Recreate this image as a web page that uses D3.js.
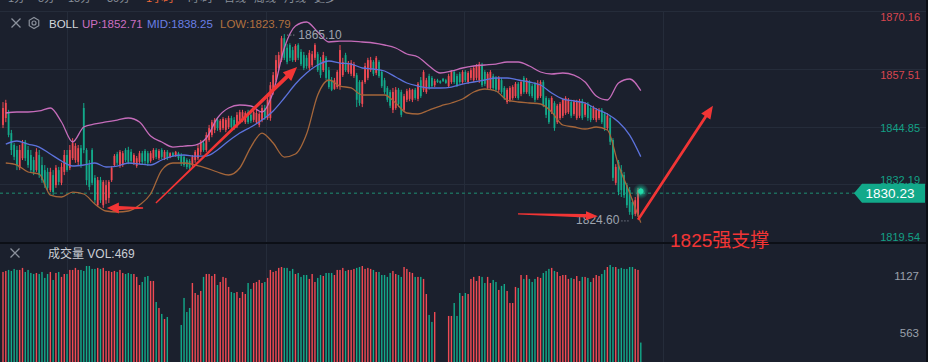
<!DOCTYPE html>
<html>
<head>
<meta charset="utf-8">
<script src="https://cdn.jsdelivr.net/npm/d3@7"></script>
<style>
html, body { margin: 0; padding: 0; background: #1b202d; }
svg { display: block; font-family: "Liberation Sans", Arial, "Noto Sans CJK SC", sans-serif; }
</style>
</head>
<body>
<svg id="chart"></svg>
<script>
const width = 928
const height = 362

// 5 min bars, one entry per bar
const opens = [
  1845.2,1846.7,1847.8,1843.4,1840.8,1839.7,1835.8,1837.9,1841.5,1839.7,
  1838.6,1837.5,1835.3,1838.6,1836.4,1835.3,1834.9,1830.9,1834.2,1832.0,
  1835.3,1832.5,1834.9,1838.6,1835.8,1837.9,1837.5,1837.1,1840.1,1848.9,
  1839.7,1836.4,1839.7,1833.6,1827.6,1833.1,1827.6,1828.7,1829.2,1833.1,
  1836.4,1838.8,1836.2,1836.4,1839.7,1839.7,1839.3,1836.9,1836.2,1837.1,
  1839.0,1839.5,1839.0,1837.3,1837.9,1839.7,1837.9,1839.7,1837.9,1839.3,
  1838.2,1839.0,1838.4,1839.0,1838.6,1838.2,1837.5,1837.3,1836.4,1837.5,
  1837.9,1839.3,1841.2,1839.7,1841.9,1843.0,1844.1,1846.3,1844.1,1844.5,
  1844.1,1844.7,1846.7,1846.3,1844.9,1845.8,1846.3,1845.8,1848.0,1847.4,
  1846.3,1845.8,1845.2,1846.3,1848.9,1846.7,1846.7,1852.4,1855.0,1857.7,
  1859.4,1864.2,1862.1,1862.7,1861.6,1859.4,1862.7,1861.2,1860.5,1859.9,
  1857.7,1858.3,1859.9,1860.7,1859.4,1857.2,1859.9,1857.2,1855.0,1853.1,
  1853.5,1853.9,1856.1,1860.5,1856.8,1856.4,1855.9,1856.1,1854.6,1849.8,
  1854.6,1855.5,1857.2,1859.0,1856.6,1859.0,1856.8,1855.0,1853.3,1852.4,
  1848.5,1848.9,1852.9,1852.4,1848.5,1850.7,1850.9,1850.7,1852.9,1850.9,
  1855.0,1852.9,1852.4,1855.9,1855.5,1853.9,1855.0,1854.8,1855.3,1855.0,
  1853.7,1854.6,1856.8,1855.9,1856.4,1854.6,1856.8,1854.6,1855.5,1855.0,
  1855.5,1855.0,1858.3,1856.8,1853.3,1853.3,1855.9,1855.5,1852.9,1855.0,
  1853.3,1850.2,1850.7,1851.1,1851.5,1854.2,1852.0,1855.5,1852.4,1854.6,
  1853.7,1854.2,1851.1,1851.5,1854.6,1851.1,1850.7,1848.0,1850.0,1845.8,
  1846.7,1847.2,1847.8,1848.0,1850.2,1847.6,1846.7,1847.2,1850.4,1847.4,
  1849.8,1848.9,1846.7,1846.3,1846.7,1848.5,1847.6,1844.5,1846.7,1841.9,
  1832.5,1837.1,1835.3,1834.2,1832.0,1830.9,1828.3,1825.7,1825.5,1830.9
]
const highs = [
  1850.2,1850.7,1848.5,1844.1,1841.2,1840.6,1840.8,1841.9,1841.9,1840.6,
  1839.7,1838.2,1840.1,1839.7,1838.2,1836.4,1835.8,1835.8,1835.3,1836.4,
  1836.0,1836.9,1839.7,1839.7,1840.8,1842.3,1841.2,1840.8,1840.8,1850.0,
  1840.1,1837.5,1840.1,1834.2,1833.8,1833.8,1833.1,1833.1,1833.1,1836.2,
  1838.8,1839.3,1839.7,1839.5,1840.1,1840.4,1839.9,1839.0,1838.4,1839.5,
  1839.5,1839.9,1839.5,1839.5,1840.1,1840.1,1839.9,1840.1,1839.7,1839.7,
  1839.2,1839.3,1839.5,1839.3,1839.0,1838.6,1837.9,1837.7,1838.6,1839.7,
  1840.8,1841.9,1841.9,1843.6,1845.2,1846.3,1846.7,1846.7,1846.5,1846.9,
  1846.7,1847.2,1847.2,1846.9,1848.0,1848.5,1848.5,1848.2,1848.5,1847.8,
  1848.7,1848.5,1848.0,1849.6,1849.6,1851.5,1854.6,1856.8,1860.5,1861.2,
  1864.7,1865.1,1862.9,1863.1,1862.3,1862.9,1863.1,1861.8,1861.2,1860.5,
  1861.6,1861.4,1863.1,1861.2,1860.1,1861.2,1860.3,1857.9,1855.7,1855.5,
  1857.2,1862.7,1859.9,1861.0,1859.2,1859.4,1859.0,1856.6,1855.0,1855.0,
  1858.8,1859.9,1860.1,1859.4,1860.3,1859.4,1857.2,1855.5,1853.7,1852.9,
  1853.3,1853.5,1853.3,1852.9,1852.0,1853.1,1853.3,1853.1,1853.3,1854.6,
  1855.7,1857.2,1855.5,1856.4,1855.9,1855.3,1855.3,1855.0,1855.5,1855.3,
  1856.4,1857.2,1857.2,1856.4,1856.8,1857.2,1857.2,1857.0,1857.7,1858.1,
  1858.5,1859.0,1858.8,1857.2,1856.8,1857.2,1856.4,1855.9,1855.9,1855.5,
  1853.7,1853.3,1853.7,1853.9,1854.6,1854.6,1855.0,1855.9,1855.5,1855.0,
  1854.2,1854.6,1855.0,1855.0,1855.0,1851.5,1851.1,1851.5,1850.4,1849.8,
  1850.2,1851.1,1851.5,1851.1,1850.7,1850.7,1850.7,1850.9,1850.9,1850.2,
  1850.2,1849.4,1849.4,1848.9,1848.9,1848.9,1848.0,1847.8,1847.2,1842.3,
  1836.6,1837.5,1836.4,1834.9,1832.5,1831.6,1829.0,1829.4,1831.4,1831.4
]
const lows = [
  1844.5,1845.8,1842.5,1838.6,1837.5,1835.3,1835.3,1837.5,1837.3,1835.8,
  1834.7,1834.2,1834.9,1833.6,1832.5,1831.4,1830.9,1830.5,1829.8,1831.4,
  1832.0,1832.0,1834.2,1834.9,1835.3,1837.5,1836.9,1836.4,1835.8,1839.0,
  1832.0,1830.9,1832.0,1828.1,1827.2,1828.1,1827.0,1827.9,1828.1,1832.7,
  1836.0,1836.4,1835.8,1836.0,1837.1,1836.6,1836.9,1836.4,1835.8,1836.6,
  1836.6,1836.6,1836.2,1836.9,1837.5,1837.7,1837.5,1837.7,1837.5,1837.5,
  1837.9,1838.2,1838.2,1837.5,1836.2,1836.0,1835.5,1835.3,1836.0,1836.9,
  1837.5,1838.6,1839.3,1839.3,1841.5,1842.5,1843.4,1843.9,1843.6,1844.1,
  1843.6,1844.3,1844.3,1844.1,1844.5,1845.4,1845.8,1845.4,1845.4,1845.6,
  1845.8,1845.4,1844.7,1845.8,1846.3,1846.3,1846.1,1851.8,1854.6,1857.2,
  1859.0,1859.4,1858.5,1859.2,1859.0,1859.0,1859.4,1858.1,1857.2,1857.5,
  1857.2,1857.9,1859.4,1856.8,1855.5,1856.8,1855.0,1853.1,1852.6,1852.9,
  1853.1,1852.9,1855.7,1856.8,1856.4,1855.9,1855.5,1849.1,1849.4,1849.1,
  1854.2,1855.0,1856.8,1855.9,1856.1,1855.5,1853.3,1852.0,1850.2,1848.9,
  1847.8,1848.5,1849.1,1846.9,1848.0,1850.2,1850.4,1850.2,1850.7,1850.4,
  1851.1,1852.4,1852.0,1852.9,1853.3,1853.5,1854.4,1854.2,1854.6,1854.2,
  1853.3,1854.2,1854.2,1853.5,1854.2,1854.2,1854.6,1854.2,1855.0,1854.6,
  1855.0,1854.4,1853.5,1853.7,1852.9,1852.9,1852.9,1852.4,1852.4,1852.0,
  1850.7,1849.8,1850.2,1850.7,1851.1,1850.7,1851.5,1852.0,1852.0,1851.5,
  1851.1,1850.2,1850.7,1851.1,1849.1,1846.7,1845.4,1847.6,1843.9,1845.4,
  1846.3,1846.7,1847.4,1847.6,1846.7,1847.2,1846.3,1846.7,1846.3,1846.9,
  1846.1,1845.8,1846.3,1845.8,1846.3,1845.4,1843.9,1844.1,1840.8,1832.9,
  1832.0,1829.8,1829.4,1829.2,1827.0,1825.5,1824.6,1825.2,1825.0,1829.8
]
const closes = [
  1848.9,1850.0,1843.0,1839.7,1838.2,1836.4,1839.7,1841.2,1837.9,1836.4,
  1835.3,1834.9,1839.3,1834.2,1833.1,1832.0,1831.4,1834.9,1830.5,1835.8,
  1832.7,1836.0,1838.6,1835.3,1839.7,1841.2,1840.6,1840.1,1836.4,1839.7,
  1833.1,1831.6,1832.5,1828.7,1833.1,1828.7,1832.7,1832.0,1832.7,1835.8,
  1838.4,1836.9,1839.3,1839.0,1837.5,1837.1,1837.3,1838.6,1837.9,1839.0,
  1837.1,1837.3,1836.9,1839.0,1839.7,1838.2,1839.5,1838.2,1839.3,1837.9,
  1839.0,1838.4,1839.3,1837.9,1836.9,1836.4,1836.0,1835.8,1838.2,1839.3,
  1840.1,1841.2,1839.7,1843.0,1844.5,1845.8,1846.3,1844.5,1846.1,1846.5,
  1846.3,1846.7,1844.7,1844.5,1847.4,1848.0,1848.0,1847.8,1845.8,1846.1,
  1848.0,1847.8,1847.6,1848.9,1846.9,1850.7,1853.9,1856.1,1859.4,1860.5,
  1864.2,1859.9,1859.0,1859.9,1859.4,1862.5,1859.9,1858.5,1857.7,1858.1,
  1861.0,1860.7,1862.7,1857.2,1856.1,1860.5,1855.5,1853.5,1852.9,1855.0,
  1856.8,1861.6,1859.0,1857.2,1858.8,1858.8,1858.5,1850.7,1850.0,1854.6,
  1858.1,1859.4,1859.4,1856.4,1859.9,1855.9,1853.7,1852.4,1850.7,1849.4,
  1852.4,1852.9,1849.8,1847.4,1851.5,1852.6,1852.9,1852.9,1851.1,1854.2,
  1851.5,1856.8,1855.0,1853.3,1853.7,1854.8,1854.6,1854.4,1854.8,1854.4,
  1855.9,1856.8,1854.6,1853.9,1854.6,1856.8,1855.0,1856.6,1857.2,1857.7,
  1858.1,1858.5,1853.9,1854.2,1856.4,1856.8,1853.3,1852.9,1855.5,1852.4,
  1851.1,1852.9,1853.3,1853.5,1854.2,1851.1,1854.6,1852.4,1855.0,1852.0,
  1851.5,1850.7,1854.2,1854.6,1849.6,1847.4,1845.8,1851.1,1844.5,1849.4,
  1849.8,1850.7,1851.1,1850.7,1847.2,1850.2,1850.2,1850.4,1846.7,1849.8,
  1846.7,1846.3,1848.9,1848.5,1848.5,1845.8,1844.5,1847.2,1841.5,1833.6,
  1836.0,1830.5,1830.9,1829.8,1827.6,1826.1,1825.5,1828.7,1830.9,1830.23
]
const volumes = [
  1167,1177,1187,1177,1197,1187,1187,1207,1167,1187,
  1157,1147,1157,1147,1167,1108,1147,1167,1088,1157,
  1167,1118,1147,1147,1187,1187,1207,1187,1187,1177,
  1226,1226,1197,1197,1207,1197,1207,1177,1177,1167,
  1177,1167,1187,1157,1147,1157,1147,1147,1118,1038,
  1068,1118,1127,1078,1078,870,811,752,702,722,
  240,215,230,260,643,910,771,811,1058,959,
  940,979,1118,1147,1147,1127,1147,1038,1068,1118,
  1108,1019,969,959,969,910,969,949,1058,999,
  1058,1068,1088,1058,1068,1108,1187,1167,1177,1207,
  1216,1207,1207,1177,1197,1147,1157,1118,1137,1137,
  1098,1147,1068,1108,1137,1127,1157,1157,1157,1137,
  1187,1187,1207,1177,1187,1187,1197,1207,1216,1226,
  1197,1207,1197,1187,1167,1167,1137,1137,1118,1157,
  1177,1147,1137,1118,1216,1197,1167,1157,1118,1118,
  1118,1098,949,742,673,771,250,220,240,265,
  732,732,860,732,959,930,959,949,1098,1118,
  1078,1127,1118,1058,1118,1058,1088,1068,989,1029,
  1048,979,860,860,1019,1009,1137,1098,1137,1098,
  1068,1098,1118,1108,1157,1177,1197,1207,1177,1167,
  1127,1137,1137,1098,1108,1098,1127,1078,1118,1118,
  1108,1068,1108,1137,1127,1147,1187,1216,1236,1216,
  1216,1197,1207,1197,1197,1216,1216,1197,1187,469
]

// Bollinger (20,2) read every 4th bar, starting at bar 1
const bandStart = 1
const bandStep = 4
const bollUp = [
  1847.81,1848.03,1848.03,1848.25,1848.90,1845.84,1841.45,1844.74,1845.40,1845.84,
  1846.27,1846.71,1845.84,1842.77,1841.45,1840.35,1840.57,1840.79,1842.33,1846.71,
  1848.90,1849.56,1849.34,1848.03,1852.41,1862.05,1866.87,1867.75,1865.56,1863.37,
  1863.58,1863.58,1863.37,1863.15,1862.71,1862.05,1860.74,1860.08,1858.11,1856.57,
  1857.01,1857.67,1858.11,1858.33,1858.54,1858.98,1858.98,1858.11,1856.79,1856.35,
  1856.57,1856.13,1854.60,1851.53,1850.66,1854.38,1855.26,1852.71
]
const bollMid = [
  1841.01,1841.67,1841.01,1840.35,1838.82,1837.29,1836.19,1836.41,1836.85,1835.97,
  1836.19,1836.85,1836.63,1836.41,1837.51,1838.38,1838.60,1838.38,1838.38,1839.70,
  1841.67,1843.42,1844.74,1846.27,1848.25,1851.09,1854.16,1856.57,1858.33,1859.20,
  1858.76,1858.54,1857.67,1857.45,1857.01,1855.70,1854.38,1853.72,1853.29,1853.29,
  1853.50,1854.16,1854.60,1855.04,1855.48,1855.48,1855.04,1854.60,1853.94,1852.19,
  1850.87,1850.44,1850.00,1848.68,1847.59,1845.84,1842.98,1838.25
]
const bollLow = [
  1836.85,1836.41,1834.88,1834.44,1829.83,1829.40,1830.49,1830.06,1827.86,1826.33,
  1826.11,1826.33,1827.65,1830.06,1835.31,1836.85,1836.85,1836.41,1835.75,1834.88,
  1834.22,1835.75,1840.35,1843.42,1841.23,1838.16,1838.82,1843.20,1851.75,1855.04,
  1853.72,1853.29,1851.75,1851.75,1851.75,1850.00,1847.81,1847.59,1848.46,1849.34,
  1850.00,1850.87,1852.41,1853.07,1852.63,1850.66,1850.22,1850.00,1849.78,1848.03,
  1845.18,1844.74,1844.30,1844.74,1844.08,1836.41,1830.27,1823.79
]

const priceTicks = [1870.16, 1857.51, 1844.85, 1832.19, 1819.54]
const refClose = 1848.0   // ticks above it are drawn red
const volTicks = [1127, 563]
const timeGrid = [23, 94.5, 165.5, 237]
const topTabs = ['1分', '5分', '15分', '30分', '1小时', '4小时', '日线', '周线', '月线', '更多']
const activeTab = '1小时'

// hand drawn marks: [bar, price]
const arrows = [
  {from: [54.9, 1828.1], to: [105.6, 1857.9], w0: 1.4, w1: 4, hl: 14, hw: 12},
  {from: [50.3, 1827.0], to: [37.3, 1827.0], w0: 1.6, w1: 4, hl: 12, hw: 11},
  {from: [184.9, 1825.7], to: [213.6, 1825.2], w0: 1.4, w1: 3.5, hl: 12, hw: 9},
  {from: [228, 1824.4], to: [254.9, 1849.4], w0: 2.6, w1: 2.8, hl: 13, hw: 11}
]
const noteText = '1825强支撑'

const bg = '#1b202d'
const grid = '#252c3a'
const up = '#f04a53'
const down = '#13a98a'
const markRed = '#f23535'

const svg = d3.select('#chart')
  .attr('width', width)
  .attr('height', height)

svg.append('rect').attr('width', width).attr('height', height).attr('fill', bg)

const mainTop = 11, mainBottom = 242
const x = d3.scaleLinear().domain([0, closes.length - 1]).range([3, 640.8])
const y = d3.scaleLinear().domain([priceTicks[4], priceTicks[0]]).range([mainBottom, mainTop])
const yv = d3.scaleLinear().domain([0, volTicks[0]]).range([390, 276])
// axis labels sit inside the pane near its edges
const labelShift = d3.scaleLinear()
  .domain(priceTicks.map(d => y(d)))
  .range([6, 6, 1.5, -4.5, -5])

// top tabs, cut off by the window edge
const tabs = svg.append('text').attr('y', 2).attr('font-size', 11)
let tx = 8
topTabs.forEach(t => {
  tabs.append('tspan').attr('x', tx).text(t)
    .attr('fill', t === activeTab ? '#ef6a3a' : '#8a909b')
  tx += t.length * 9 + 12
})

// grid
const gridG = svg.append('g')
gridG.selectAll('line.h').data(priceTicks).join('line')
  .attr('x1', 0).attr('x2', width)
  .attr('y1', d => Math.round(y(d)) + 0.5).attr('y2', d => Math.round(y(d)) + 0.5)
  .attr('stroke', grid).attr('stroke-width', 1)
gridG.selectAll('line.v').data(timeGrid).join('line')
  .attr('x1', d => Math.round(x(d)) + 0.5).attr('x2', d => Math.round(x(d)) + 0.5)
  .attr('y1', mainTop).attr('y2', height)
  .attr('stroke', grid).attr('stroke-width', 1)

// last price dotted line
const lastY = y(closes[closes.length - 1])
svg.append('line')
  .attr('x1', 0).attr('x2', 855).attr('y1', lastY).attr('y2', lastY)
  .attr('stroke', '#1d6a5b').attr('stroke-width', 1.6).attr('stroke-dasharray', '3,3')

// volume pane
svg.append('clipPath').attr('id', 'volClip').append('rect')
  .attr('x', 0).attr('y', 244).attr('width', width).attr('height', height - 244)
const isUp = i => closes[i] >= opens[i]
svg.append('g').attr('clip-path', 'url(#volClip)')
  .selectAll('rect').data(volumes).join('rect')
  .attr('x', (d, i) => x(i) - 0.7)
  .attr('width', 1.4)
  .attr('y', d => yv(d))
  .attr('height', d => yv(0) - yv(d))
  .attr('fill', (d, i) => isUp(i) ? up : down)

// candles
const candles = svg.append('g')
const idx = d3.range(closes.length)
candles.selectAll('rect.wick').data(idx).join('rect')
  .attr('x', i => x(i) - 0.5)
  .attr('width', 1)
  .attr('y', i => y(highs[i]))
  .attr('height', i => Math.max(1, y(lows[i]) - y(highs[i])))
  .attr('fill', i => isUp(i) ? up : down)
candles.selectAll('rect.body').data(idx).join('rect')
  .attr('x', i => x(i) - 0.9)
  .attr('width', 1.8)
  .attr('y', i => y(Math.max(opens[i], closes[i])))
  .attr('height', i => Math.max(1, Math.abs(y(opens[i]) - y(closes[i]))))
  .attr('fill', i => isUp(i) ? up : down)

// bollinger lines
const bandLine = d3.line()
  .x((d, k) => x(bandStart + k * bandStep))
  .y(d => y(d))
  .curve(d3.curveMonotoneX)
const bands = [
  {vals: bollUp, color: '#c56cba'},
  {vals: bollMid, color: '#5c72dc'},
  {vals: bollLow, color: '#a5663a'}
]
svg.append('g').selectAll('path').data(bands).join('path')
  .attr('d', d => bandLine(d.vals))
  .attr('fill', 'none')
  .attr('stroke', d => d.color)
  .attr('stroke-width', 1.3)

// glow on the live bar
const defs = svg.append('defs')
const grad = defs.append('radialGradient').attr('id', 'glow')
grad.append('stop').attr('offset', '0%').attr('stop-color', '#2ff0bd').attr('stop-opacity', 0.9)
grad.append('stop').attr('offset', '45%').attr('stop-color', '#1bc99c').attr('stop-opacity', 0.5)
grad.append('stop').attr('offset', '100%').attr('stop-color', '#13a98a').attr('stop-opacity', 0)
const last = closes.length - 1
svg.append('circle').attr('cx', x(last)).attr('cy', lastY - 2).attr('r', 8).attr('fill', 'url(#glow)')
svg.append('circle').attr('cx', x(last)).attr('cy', lastY - 2).attr('r', 2.6).attr('fill', '#22dcaa')

// max / min markers
const fmt = d3.format('.2f')
const hiI = d3.maxIndex(highs)
const loI = d3.minIndex(lows)
svg.append('line')
  .attr('x1', x(hiI) + 3).attr('x2', x(hiI) + 12)
  .attr('y1', y(highs[hiI]) + 1).attr('y2', y(highs[hiI]) + 1)
  .attr('stroke', '#9aa1ad').attr('stroke-dasharray', '1,2')
svg.append('text')
  .attr('x', x(hiI) + 14).attr('y', y(highs[hiI]) + 5)
  .attr('font-size', 12).attr('fill', '#9ea4af')
  .text(fmt(highs[hiI]))
svg.append('line')
  .attr('x1', x(loI) - 11).attr('x2', x(loI) - 2)
  .attr('y1', y(lows[loI]) + 2).attr('y2', y(lows[loI]) + 2)
  .attr('stroke', '#9aa1ad').attr('stroke-dasharray', '1,2')
svg.append('text')
  .attr('x', x(loI) - 13).attr('y', y(lows[loI]) + 5.5)
  .attr('text-anchor', 'end')
  .attr('font-size', 12).attr('fill', '#9ea4af')
  .text(fmt(lows[loI]))

// price axis
svg.append('g').selectAll('text').data(priceTicks).join('text')
  .attr('x', 920)
  .attr('y', d => y(d) + labelShift(y(d)) + 4)
  .attr('text-anchor', 'end')
  .attr('font-size', 11)
  .attr('fill', d => d > refClose ? '#d8454f' : '#14a086')
  .text(d => fmt(d))

// current price tag
const tagL = 854, tagR = 925
svg.append('polygon')
  .attr('points', [[tagL, lastY], [tagL + 8, lastY - 9.5], [tagR, lastY - 9.5], [tagR, lastY + 9.5], [tagL + 8, lastY + 9.5]].map(p => p.join(',')).join(' '))
  .attr('fill', '#12a98a')
svg.append('text')
  .attr('x', 890).attr('y', lastY + 4.8)
  .attr('text-anchor', 'middle')
  .attr('font-size', 13.5).attr('fill', '#ffffff')
  .text(fmt(closes[last]))

// pane separators
svg.append('rect').attr('x', 0).attr('y', 242).attr('width', width).attr('height', 2).attr('fill', '#0c0f16')
svg.append('rect').attr('x', 926).attr('y', 0).attr('width', 2).attr('height', height).attr('fill', '#0c0f16')

// volume axis
svg.append('g').selectAll('text').data(volTicks).join('text')
  .attr('x', 919)
  .attr('y', d => yv(d) + 4)
  .attr('text-anchor', 'end')
  .attr('font-size', 11.5)
  .attr('fill', '#9aa0ab')
  .text(d => d)

// legends
function cross(cx, cy) {
  svg.append('path')
    .attr('d', `M${cx - 4.5},${cy - 4.5}L${cx + 4.5},${cy + 4.5}M${cx + 4.5},${cy - 4.5}L${cx - 4.5},${cy + 4.5}`)
    .attr('stroke', '#8b919c').attr('stroke-width', 1.3)
}
cross(16, 23)
const hex = d3.range(6).map(k => [34 + 5.5 * Math.cos(Math.PI / 3 * k + Math.PI / 6), 23 + 5.5 * Math.sin(Math.PI / 3 * k + Math.PI / 6)])
svg.append('polygon').attr('points', hex.map(p => p.join(',')).join(' '))
  .attr('fill', 'none').attr('stroke', '#8b919c').attr('stroke-width', 1.2)
svg.append('circle').attr('cx', 34).attr('cy', 23).attr('r', 2)
  .attr('fill', 'none').attr('stroke', '#8b919c').attr('stroke-width', 1.2)

const legend = [
  {t: 'BOLL', x: 49, c: '#d3d6dc'},
  {t: 'UP:' + fmt(bollUp[bollUp.length - 1]), x: 82, c: '#cc6fc0'},
  {t: 'MID:' + fmt(bollMid[bollMid.length - 1]), x: 147, c: '#6a7fe4'},
  {t: 'LOW:' + fmt(bollLow[bollLow.length - 1]), x: 220, c: '#b0703f'}
]
svg.append('g').selectAll('text').data(legend).join('text')
  .attr('x', d => d.x).attr('y', 27.5)
  .attr('font-size', 11.5)
  .attr('fill', d => d.c)
  .text(d => d.t)

cross(15, 253)
svg.append('text').attr('x', 48).attr('y', 257.5)
  .attr('font-size', 12).attr('fill', '#c9cdd4')
  .text('成交量  VOL:' + volumes[last])

// red hand drawn arrows
function arrow(a) {
  const x1 = x(a.from[0]), y1 = y(a.from[1]), x2 = x(a.to[0]), y2 = y(a.to[1])
  const len = Math.hypot(x2 - x1, y2 - y1)
  const ux = (x2 - x1) / len, uy = (y2 - y1) / len
  const nx = -uy, ny = ux
  const bx = x2 - ux * a.hl, by = y2 - uy * a.hl
  const pts = [
    [x1 + nx * a.w0 / 2, y1 + ny * a.w0 / 2],
    [bx + nx * a.w1 / 2, by + ny * a.w1 / 2],
    [bx + nx * a.hw / 2, by + ny * a.hw / 2],
    [x2, y2],
    [bx - nx * a.hw / 2, by - ny * a.hw / 2],
    [bx - nx * a.w1 / 2, by - ny * a.w1 / 2],
    [x1 - nx * a.w0 / 2, y1 - ny * a.w0 / 2]
  ]
  svg.append('polygon').attr('points', pts.map(p => p.join(',')).join(' ')).attr('fill', markRed)
}
arrows.forEach(arrow)

svg.append('text')
  .attr('x', 670).attr('y', 247)
  .attr('font-size', 19)
  .attr('fill', markRed)
  .text(noteText)
</script>
</body>
</html>
